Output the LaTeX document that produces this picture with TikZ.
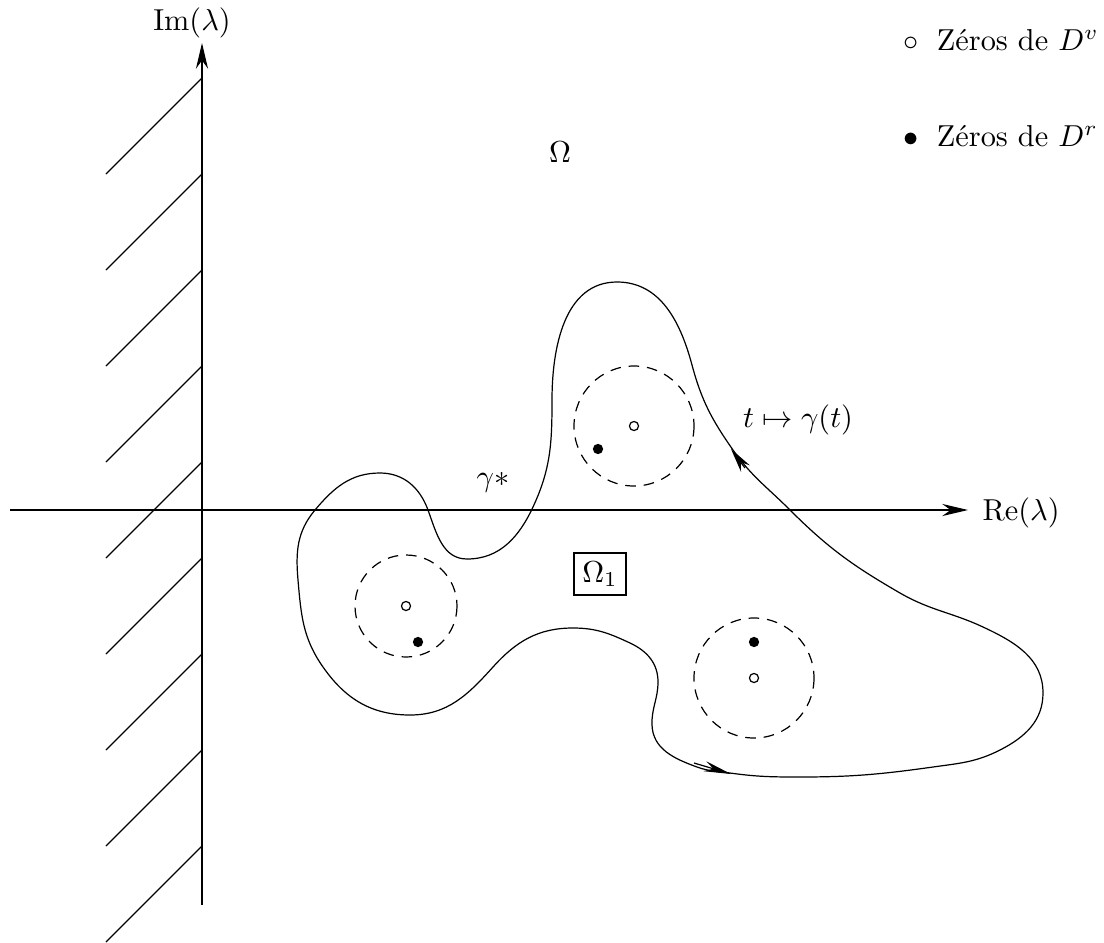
\documentclass[tikz,border=0pt]{standalone}
\usetikzlibrary{arrows.meta}
\begin{document}
\begin{tikzpicture}[x=0.33pt,y=-0.33pt,
  curve/.style={line width=0.4pt},
  axisarrow/.style={-{Stealth[length=8.5pt,width=4pt]}},
  curvearrow/.style={-{Stealth[length=8pt,width=3.6pt]}},
  zone/.style={line width=0.4pt,dash pattern=on 3.5pt off 2.6pt},
  zv/.style={circle,draw,line width=0.4pt,inner sep=0pt,minimum size=3pt},
  zr/.style={circle,fill,inner sep=0pt,minimum size=3.4pt},
  lab/.style={inner sep=0pt}]
\useasboundingbox (0,0) rectangle (1104,942);
% hatching
\foreach \k in {0,...,8} \draw (202,{78+96*\k}) -- (106,{174+96*\k});
% axes
\coordinate (imbot) at (202,905);
\coordinate (imtop) at (202,43);
\coordinate (releft) at (10,510);
\coordinate (reright) at (968,510);
\draw[axisarrow] (imbot) -- (imtop);
\draw[axisarrow] (releft) -- (reright);
\node[lab] (im) at (192,23) {$\mathrm{Im}(\lambda)$};
\node[lab,anchor=west] (re) at (982,513) {$\mathrm{Re}(\lambda)$};
% legend
\node[lab,anchor=base west] (legv) at (903,50) {$\circ$\hspace{6pt}Zéros de $D^v$};
\node[lab,anchor=base west] (legr) at (903,146) {$\bullet$\hspace{6pt}Zéros de $D^r$};
% labels
\node[lab] (om) at (560,152) {$\Omega$};
\node[lab] (gs) at (493,482) {$\gamma*$};
\node[lab] (gt) at (798,420) {$t\mapsto\gamma(t)$};
\node[draw,line width=0.8pt,inner sep=2.8pt] (om1) at (600,574) {$\Omega_1$};
% contour
\draw[curve] (730,773) to[out=-8,in=180] (800,777)
  to[out=0,in=188] (933,767)
  to[out=8,in=207] (1000,750)
  to[out=27,in=270] (1043,693)
  to[out=90,in=-25] (983,627)
  to[out=155,in=-30] (900,593)
  to[out=150,in=-45] (790,510)
  to[out=135,in=-55] (733,450)
  to[out=125,in=-75] (692,365)
  to[out=105,in=0] (617,282)
  to[out=180,in=90] (552,400)
  to[out=270,in=65] (533,507)
  to[out=245,in=0] (467,559)
  to[out=180,in=-70] (428,510)
  to[out=110,in=0] (380,473)
  to[out=180,in=50] (315,510)
  to[out=230,in=95] (298,580)
  to[out=275,in=125] (323,667)
  to[out=305,in=180] (410,715)
  to[out=0,in=228] (493,667)
  to[out=48,in=180] (573,628)
  to[out=0,in=155] (630,643)
  to[out=-25,in=90] (658,682)
  to[out=270,in=92] (652,725)
  to[out=272,in=160] (697,767)
  to[out=-20,in=172] cycle;
% arrows on contour
\coordinate (a1s) at (745,468);
\coordinate (a1e) at (731,449);
\draw[curvearrow] (a1s) -- (a1e);
\coordinate (a2s) at (694,763);
\coordinate (a2e) at (731,774);
\draw[-{Stealth[length=9pt,width=3.4pt]}] (a2s) -- (a2e);
% dashed zones
\draw[zone] (634,426) circle[radius=60];
\draw[zone] (406,606) circle[radius=51];
\draw[zone] (754,678) circle[radius=60];
% zeros
\node[zv] (v1) at (634,426) {};
\node[zr] (r1) at (598,449) {};
\node[zv] (v2) at (406,606) {};
\node[zr] (r2) at (418,642) {};
\node[zv] (v3) at (754,678) {};
\node[zr] (r3) at (754,642) {};
\end{tikzpicture}
\end{document}
